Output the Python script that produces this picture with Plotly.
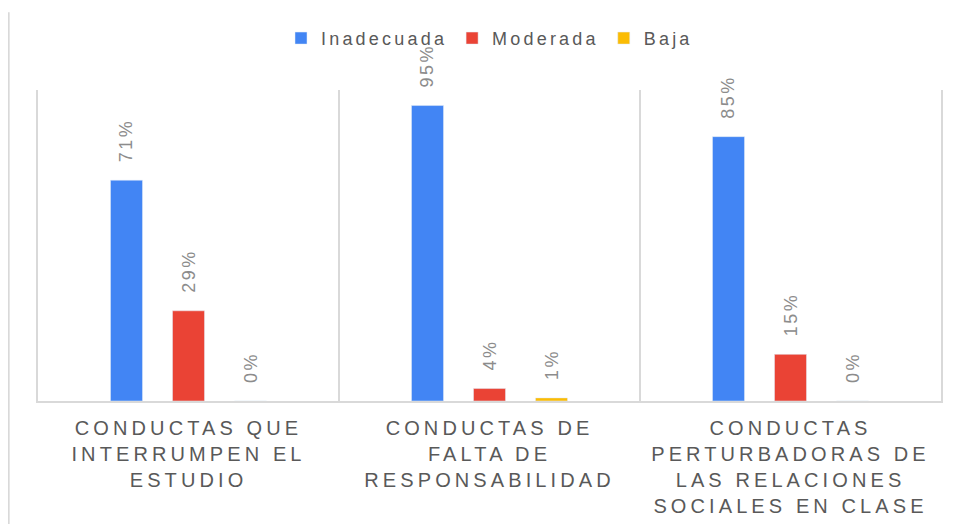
import plotly.graph_objects as go

categories = [
    "CONDUCTAS QUE<br>INTERRUMPEN EL<br>ESTUDIO",
    "CONDUCTAS DE<br>FALTA DE<br>RESPONSABILIDAD",
    "CONDUCTAS<br>PERTURBADORAS DE<br>LAS RELACIONES<br>SOCIALES EN CLASE",
]
series_names = ["Inadecuada", "Moderada", "Baja"]
inadecuada = [0.71, 0.95, 0.85]
moderada = [0.29, 0.04, 0.15]
baja = [0.00, 0.01, 0.00]
colors = ["#4285F4", "#EA4335", "#FBBC04"]

FONT = "Arial, Liberation Sans, sans-serif"


def spaced(text, px):
    return "<br>".join(
        f"<span style='letter-spacing:{px}px'>{line}</span>" for line in text.split("<br>")
    )


ticktext = [spaced(c, 4.1) for c in categories]

fig = go.Figure()
for name, vals, col in zip(series_names, [inadecuada, moderada, baja], colors):
    fig.add_trace(go.Bar(
        x=categories, y=vals, name=spaced(name, 3.2), marker_color=col,
        texttemplate="<span style='letter-spacing:2.5px'>\u00a0\u00a0%{y:.0%}</span>",
        textposition="outside", textangle=-90, cliponaxis=False, constraintext="none",
        textfont=dict(family=FONT, size=18, color="#8c8c8c"),
    ))

fig.update_layout(
    width=950, height=516,
    margin=dict(l=30, r=17, t=82, b=123, autoexpand=False),
    paper_bgcolor="white", plot_bgcolor="white",
    barmode="group", bargap=0.382, bargroupgap=0.484,
    font=dict(family=FONT, color="#595959"),
    showlegend=True,
    legend=dict(orientation="h", x=0.5, xanchor="center", xref="paper",
                y=0.977, yref="container", yanchor="top",
                bgcolor="rgba(0,0,0,0)",
                font=dict(family=FONT, size=18, color="#595959"),
                itemclick=False, traceorder="normal"),
    xaxis=dict(tickvals=categories, ticktext=ticktext, tickson="boundaries",
               showgrid=True, gridcolor="#d9d9d9", gridwidth=2,
               showline=True, linecolor="#d9d9d9", linewidth=2, ticks="",
               ticklabelstandoff=8, automargin=False,
               tickangle=0, tickfont=dict(family=FONT, size=20, color="#595959")),
    yaxis=dict(range=[0, 1], showticklabels=False, showgrid=False, zeroline=False,
               showline=True, linecolor="#d9d9d9", linewidth=2, mirror=True,
               automargin=False),
    shapes=[dict(type="line", xref="paper", yref="paper", x0=-0.0325, x1=-0.0325,
                 y0=1.25, y1=-0.4, line=dict(color="#d9d9d9", width=2))],
)

fig.write_html("out.html")
